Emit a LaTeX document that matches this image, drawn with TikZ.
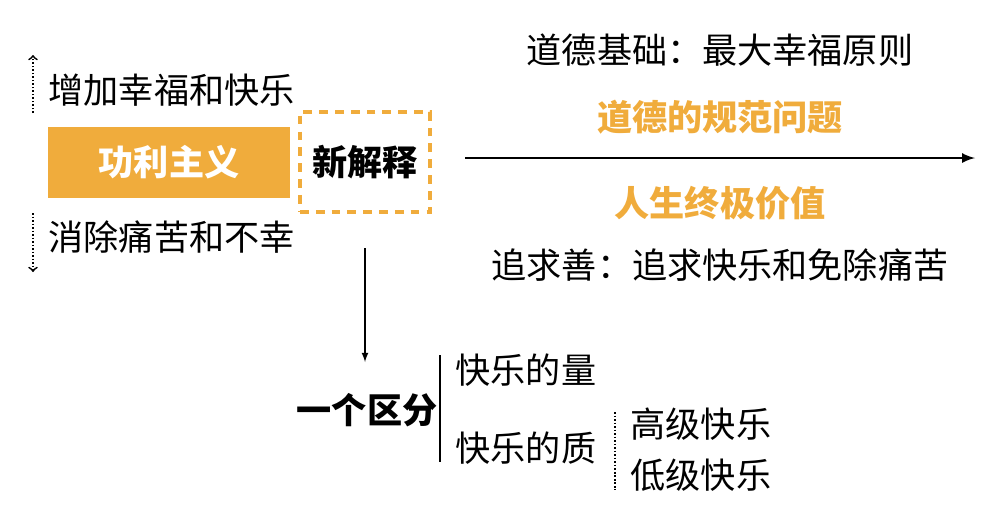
\documentclass[tikz,border=0pt]{standalone}
\usepackage{fontspec}
\setmainfont{Noto Sans CJK SC}
\usetikzlibrary{positioning}
\definecolor{gold}{HTML}{F0AC3C}
\tikzset{
  txt/.style={inner sep=0pt,font=\fontsize{20}{22}\selectfont},
  hot/.style={txt,text=gold,font=\fontsize{20}{22}\selectfont\bfseries},
}
\begin{document}
\begin{tikzpicture}[x=0.02cm,y=-0.02cm]
    \useasboundingbox (0,0) rectangle (1000,515);
    \begin{scope}[thick]
    % left block
    \node [fill=gold, minimum width=242*0.02cm, minimum height=71*0.02cm, text=white, font=\fontsize{20}{22}\selectfont\bfseries] (util) at (169,162) {功利主义};
    \node [draw=gold, dash pattern=on 5pt off 4pt, line width=2pt, minimum width=130*0.02cm, minimum height=100*0.02cm, font=\fontsize{20}{22}\selectfont\bfseries] (new) at (365,162) {新解释};
    \node [txt, anchor=west] (up) at (48,90) {增加幸福和快乐};
    \node [txt, anchor=west] (down) at (48,237) {消除痛苦和不幸};
    \coordinate (u0) at (33,113); \coordinate (u1) at (33,55);
    \coordinate (d0) at (33,213); \coordinate (d1) at (33,272);
    \draw [->, densely dotted, line width=1pt] (u0) -- (u1);
    \draw [->, densely dotted, line width=1pt] (d0) -- (d1);

    % right side
    \coordinate (a0) at (465,158); \coordinate (a1) at (975,158);
    \draw [-latex, line width=1.5pt] (a0) -- (a1);
    \node [txt] (base) at (720,50) {道德基础：最大幸福原则};
    \node [hot] (norm) at (720,117) {道德的规范问题};
    \node [hot] (life) at (720,203) {人生终极价值};
    \node [txt] (good) at (720,265) {追求善：追求快乐和免除痛苦};

    % lower part
    \coordinate (v0) at (365,248);
    \node [txt, font=\fontsize{20}{22}\selectfont\bfseries] (dist) at (367,410) {一个区分};
    \draw [-latex] (v0) -- (365,362);
    \coordinate (b0) at (440,355); \coordinate (b1) at (440,462);
    \draw (b0) -- (b1);
    \node [txt, anchor=west] (qty) at (455,370) {快乐的量};
    \node [txt, anchor=west] (qly) at (455,448) {快乐的质};
    \coordinate (c0) at (615,412); \coordinate (c1) at (615,490);
    \draw [densely dotted, line width=1pt] (c0) -- (c1);
    \node [txt, anchor=west] (high) at (630,424) {高级快乐};
    \node [txt, anchor=west] (low) at (630,475) {低级快乐};
    \end{scope}
\end{tikzpicture}
\end{document}
